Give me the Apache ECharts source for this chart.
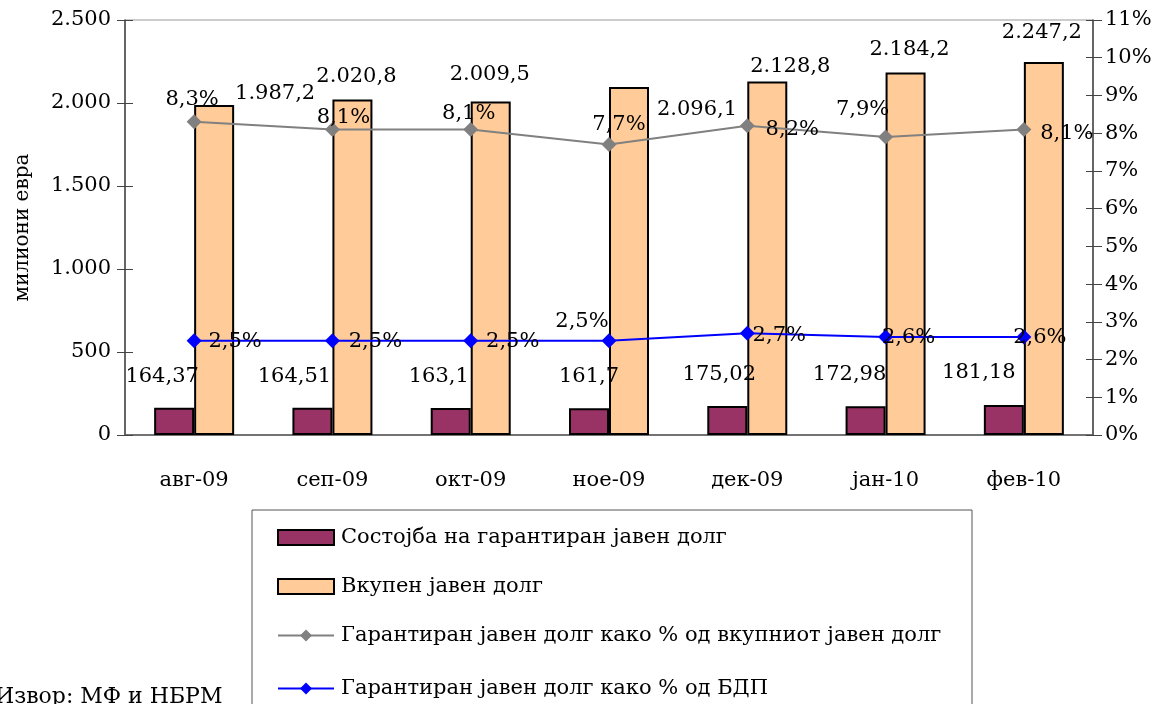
<!DOCTYPE html>
<html>
<head>
<meta charset="utf-8">
<script src="https://cdn.jsdelivr.net/npm/echarts@6/dist/echarts.min.js"></script>
<style>
  html, body { margin: 0; padding: 0; background: #fff; }
  #chart { width: 1156px; height: 704px; }
</style>
</head>
<body>
<div id="chart"></div>
<script>
const categories = ['авг-09', 'сеп-09', 'окт-09', 'ное-09', 'дек-09', 'јан-10', 'фев-10'];
const guaranteedDebt = [164.37, 164.51, 163.1, 161.7, 175.02, 172.98, 181.18];
const totalDebt = [1987.2, 2020.8, 2009.5, 2096.1, 2128.8, 2184.2, 2247.2];
const shareOfTotal = [8.3, 8.1, 8.1, 7.7, 8.2, 7.9, 8.1];
const shareOfGdp = [2.5, 2.5, 2.5, 2.5, 2.7, 2.6, 2.6];
const seriesNames = [
  'Состојба на гарантиран јавен долг',
  'Вкупен јавен долг',
  'Гарантиран јавен долг како % од вкупниот јавен долг',
  'Гарантиран јавен долг како % од БДП',
];

// label offsets (Excel put them all over the place)
const guaranteedOffsets = [[-12, -16], [-18, -16], [-12, -16], [0, -16], [-8, -16], [-16, -16], [-25, -17]];
const totalOffsets = [[61, 4], [4, -8], [-1, -11], [68, 38], [23, 0], [4, -7], [-2, -14]];
const totalShareOffsets = [[-2, -22], [11, -12], [-2, -16], [10, -20], [45, 4], [-23, -27], [43, 4]];
const gdpShareOffsets = [[41, 1], [43, 1], [42, 1], [-27, -19], [32, 2], [23, 1], [16, 1]];

const FONT = 'DejaVu Serif';
const FS = 21;

function thousands(v) {
  const parts = v.toFixed(1).split('.');
  return parts[0].replace(/\B(?=(\d{3})+(?!\d))/g, '.') + ',' + parts[1];
}

function withOffsets(values, offsets, pos, fmt) {
  return values.map((v, i) => ({
    value: v,
    label: { position: pos, offset: offsets[i], formatter: fmt(v) },
  }));
}

const chart = echarts.init(document.getElementById('chart'));

const labelText = { color: '#000', fontFamily: FONT, fontSize: FS };
const tickLabel = { color: '#000', fontFamily: FONT, fontSize: FS };
const legendText = { color: '#000', fontFamily: FONT, fontSize: FS, padding: [0, 0, 0, 2] };

const option = {
  animation: false,
  textStyle: { fontFamily: FONT },
  grid: {
    left: 125, right: 63, top: 20, bottom: 269,
    show: true, borderColor: '#999', borderWidth: 1,
  },
  legend: [
    {
      orient: 'vertical',
      left: 272,
      top: 522,
      itemWidth: 56,
      itemHeight: 15,
      itemGap: 28,
      textStyle: legendText,
      data: [
        { name: seriesNames[0], icon: 'rect' },
        { name: seriesNames[1], icon: 'rect' },
        seriesNames[2],
      ],
    },
    {
      orient: 'vertical',
      left: 272,
      top: 673,
      itemWidth: 56,
      itemHeight: 15,
      textStyle: legendText,
      data: [seriesNames[3]],
    },
  ],
  xAxis: [
    {
      type: 'category',
      data: categories,
      axisLine: { lineStyle: { color: '#555', width: 1.5 } },
      axisTick: { length: 9, lineStyle: { color: '#555' } },
      axisLabel: Object.assign({ margin: 35 }, tickLabel),
    },
    {
      type: 'category',
      data: categories,
      position: 'bottom',
      axisLine: { show: false },
      axisTick: { inside: true, length: 8, lineStyle: { color: '#555' } },
      axisLabel: { show: false },
    },
  ],
  yAxis: [
    {
      type: 'value',
      min: 0, max: 2500, interval: 500,
      name: 'милиони евра',
      nameLocation: 'middle',
      nameGap: 92,
      nameTextStyle: { color: '#000', fontFamily: FONT, fontSize: 20 },
      axisLine: { show: true, lineStyle: { color: '#444', width: 1.5 } },
      axisTick: { show: true, length: 8, lineStyle: { color: '#444' } },
      splitLine: { show: false },
      axisLabel: Object.assign({
        margin: 14,
        formatter: v => String(v).replace(/\B(?=(\d{3})+(?!\d))/g, '.'),
      }, tickLabel),
    },
    {
      type: 'value',
      min: 0, max: 11, interval: 1,
      position: 'right',
      axisLine: { show: true, lineStyle: { color: '#444', width: 1.5 } },
      axisTick: { show: true, length: 9, lineStyle: { color: '#444' } },
      splitLine: { show: false },
      axisLabel: Object.assign({ margin: 12, formatter: '{value}%' }, tickLabel),
    },
    {
      type: 'value',
      min: 0, max: 2500, interval: 500,
      position: 'left',
      axisLine: { show: false },
      axisTick: { show: true, inside: true, length: 8, lineStyle: { color: '#444' } },
      splitLine: { show: false },
      axisLabel: { show: false },
    },
    {
      type: 'value',
      min: 0, max: 11, interval: 1,
      position: 'right',
      axisLine: { show: false },
      axisTick: { show: true, inside: true, length: 7, lineStyle: { color: '#444' } },
      splitLine: { show: false },
      axisLabel: { show: false },
    },
  ],
  series: [
    {
      name: seriesNames[0],
      type: 'bar',
      barWidth: 40,
      barGap: '0%',
      itemStyle: { color: '#993366', borderColor: '#000', borderWidth: 2 },
      label: Object.assign({ show: true }, labelText),
      data: withOffsets(guaranteedDebt, guaranteedOffsets, 'top', v => String(v).replace('.', ',')),
    },
    {
      name: seriesNames[1],
      type: 'bar',
      barWidth: 40,
      itemStyle: { color: '#FFCC99', borderColor: '#000', borderWidth: 2 },
      label: Object.assign({ show: true }, labelText),
      data: withOffsets(totalDebt, totalOffsets, 'top', thousands),
    },
    {
      name: seriesNames[2],
      type: 'line',
      yAxisIndex: 1,
      z: 5,
      symbol: 'diamond',
      symbolSize: 15,
      lineStyle: { color: '#808080', width: 2 },
      itemStyle: { color: '#808080' },
      label: Object.assign({ show: true }, labelText),
      data: withOffsets(shareOfTotal, totalShareOffsets, 'inside', v => v.toFixed(1).replace('.', ',') + '%'),
    },
    {
      name: seriesNames[3],
      type: 'line',
      yAxisIndex: 1,
      z: 5,
      symbol: 'diamond',
      symbolSize: 15,
      lineStyle: { color: '#0000FF', width: 2 },
      itemStyle: { color: '#0000FF' },
      label: Object.assign({ show: true }, labelText),
      data: withOffsets(shareOfGdp, gdpShareOffsets, 'inside', v => v.toFixed(1).replace('.', ',') + '%'),
    },
  ],
  graphic: [
    {
      type: 'rect',
      z: -1,
      shape: { x: 252, y: 510, width: 720, height: 220 },
      style: { fill: '#fff', stroke: '#555', lineWidth: 1 },
    },
    {
      type: 'text',
      left: -5,
      top: 686,
      style: { text: 'Извор: МФ и НБРМ', fill: '#000', font: '22px "DejaVu Serif"' },
    },
  ],
};

chart.setOption(option);
</script>
</body>
</html>
